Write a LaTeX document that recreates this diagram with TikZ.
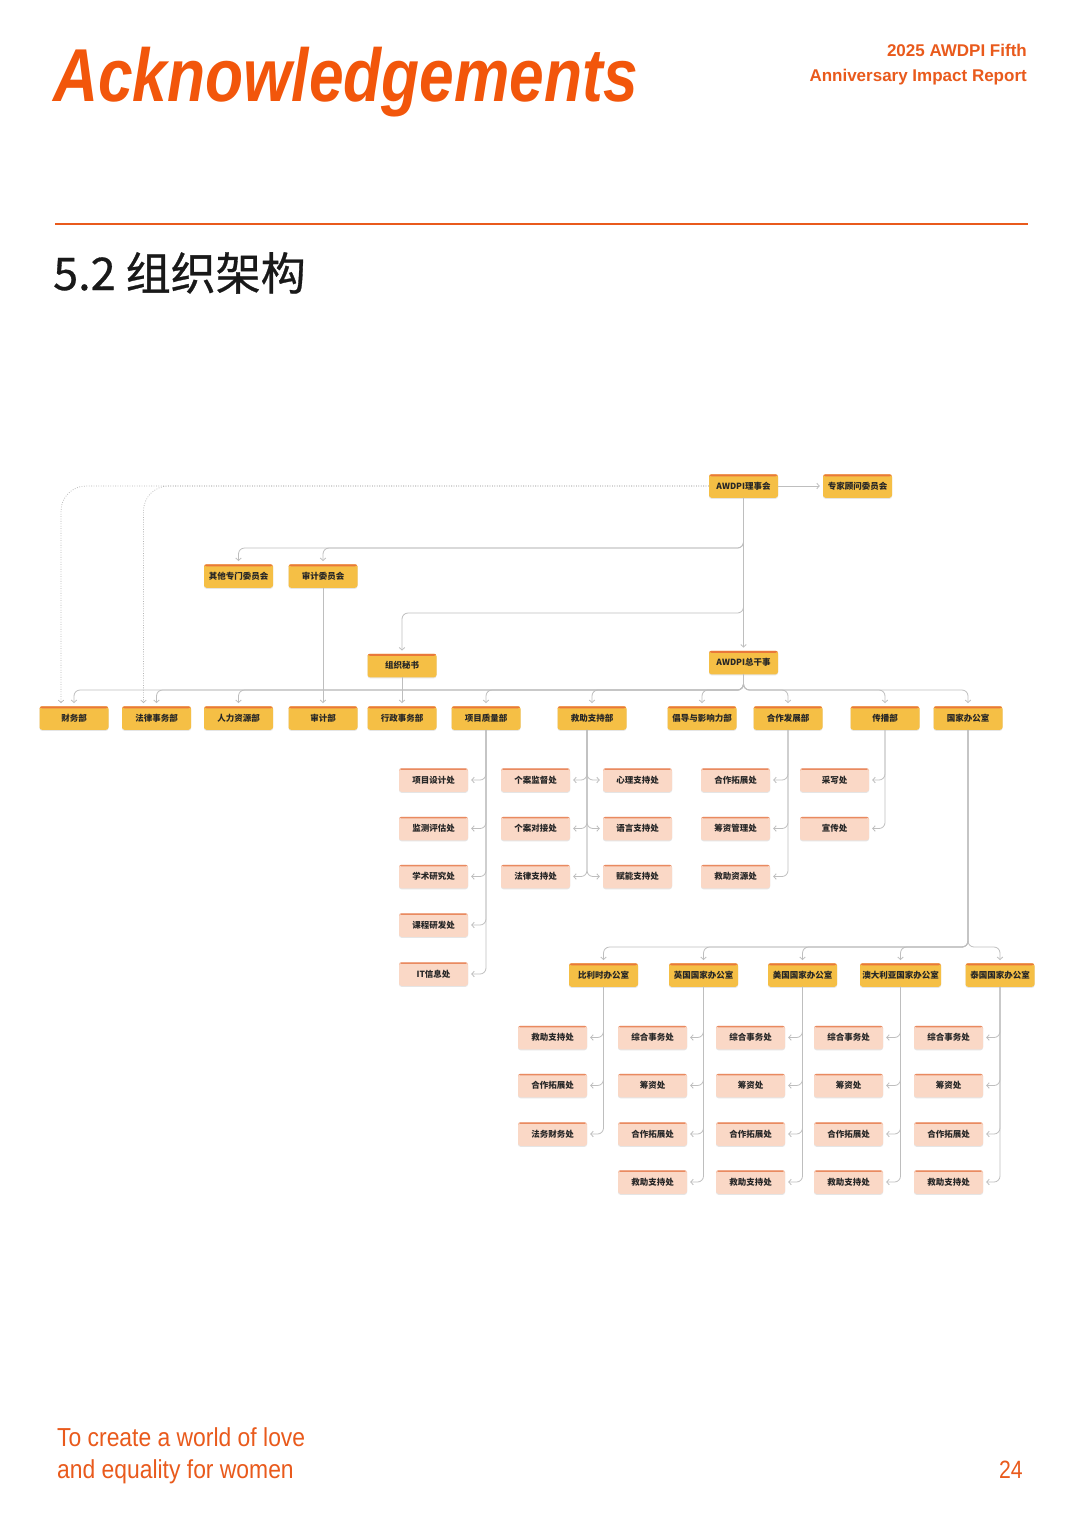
\documentclass[tikz,border=0pt]{standalone}
\usepackage{fontspec}
\setmainfont{Liberation Sans}
\newfontfamily\cjk{Noto Sans CJK SC}
\newfontfamily\cjkmed{Noto Sans CJK SC}[FakeBold=0.7]
\usetikzlibrary{arrows.meta,calc}
\definecolor{acc}{HTML}{F2560B}
\definecolor{acc2}{HTML}{E95A1C}
\definecolor{ybox}{HTML}{F5BF45}
\definecolor{ytop}{HTML}{E9783A}
\definecolor{pbox}{HTML}{FAD8C6}
\definecolor{ptop}{HTML}{E98A60}
\definecolor{lnk}{HTML}{BEBEBE}
\tikzset{
  box/.style={minimum width=69pt, minimum height=23.5pt, inner sep=1pt,
    rounded corners=2.5pt, text=black!85,
    preaction={fill=black!10, transform canvas={yshift=-1pt}},
    font=\cjk\bfseries\fontsize{8.5}{10}\selectfont},
  ybx/.style={box, fill=ybox,
    path picture={\fill[ytop] (path picture bounding box.north west) rectangle ([yshift=-2pt]path picture bounding box.north east);}},
  pbx/.style={box, fill=pbox,
    path picture={\fill[ptop] (path picture bounding box.north west) rectangle ([yshift=-1.6pt]path picture bounding box.north east);}},
  conn/.style={draw=lnk, line width=0.8pt, rounded corners=6pt, shorten >=3pt,
    -{Straight Barb[length=2.5pt,width=5.5pt]}},
  dconn/.style={draw=lnk!95!black, line width=0.7pt, dash pattern=on 0.8pt off 1.6pt,
    rounded corners=25pt, shorten >=3pt, -{Straight Barb[length=2.5pt,width=5.5pt]}},
}
\begin{document}
\begin{tikzpicture}[x=1pt,y=-1pt]
\fill[white] (0,0) rectangle (1080,1526);
\useasboundingbox (0,0) rectangle (1080,1526);

% header
\node[anchor=base west, inner sep=0, text=acc, font=\fontsize{75}{80}\selectfont\bfseries\itshape] (title) at (53,101) {\scalebox{0.83}[1]{Acknowledgements}};
\node[anchor=base east, inner sep=0, text=acc2, font=\fontsize{17}{20}\selectfont\bfseries] (rep1) at (1027,56) {2025 AWDPI Fifth};
\node[anchor=base east, inner sep=0, text=acc2, font=\fontsize{17}{20}\selectfont\bfseries] (rep2) at (1027,81) {Anniversary Impact Report};
\draw[acc2, line width=1.2pt] (55,224) -- (1028,224);
\node[anchor=base west, inner sep=0, text=black!90, font=\cjkmed\fontsize{45}{48}\selectfont] (sec) at (53,290) {5.2 组织架构};

% footer
\node[anchor=base west, inner sep=0, text=acc2, font=\fontsize{26}{30}\selectfont] (f1) at (57,1446) {\scalebox{0.88}[1]{To create a world of love}};
\node[anchor=base west, inner sep=0, text=acc2, font=\fontsize{26}{30}\selectfont] (f2) at (57,1478) {\scalebox{0.88}[1]{and equality for women}};
\node[anchor=base east, inner sep=0, text=acc2, font=\fontsize{25}{30}\selectfont] (pg) at (1023,1478) {\scalebox{0.85}[1]{24}};

% top level
\node[ybx] (lsh) at (743.5,486) {AWDPI理事会};
\node[ybx] (zj) at (857.5,486) {专家顾问委员会};
\node[ybx] (qt) at (238.5,576) {其他专门委员会};
\node[ybx] (sjw) at (323,576) {审计委员会};
\node[ybx] (zm) at (402,665.5) {组织秘书};
\node[ybx] (zg) at (743.5,662.5) {AWDPI总干事};

% departments
\node[ybx] (cw) at (74,718) {财务部};
\node[ybx] (fl) at (156.5,718) {法律事务部};
\node[ybx] (rl) at (238.5,718) {人力资源部};
\node[ybx] (sj) at (323,718) {审计部};
\node[ybx] (xz) at (402,718) {行政事务部};
\node[ybx] (xm) at (486,718) {项目质量部};
\node[ybx] (jz) at (592,718) {救助支持部};
\node[ybx] (cd) at (702,718) {倡导与影响力部};
\node[ybx] (hz) at (788,718) {合作发展部};
\node[ybx] (cb) at (885,718) {传播部};
\node[ybx] (gj) at (968,718) {国家办公室};

% connectors top
\draw[conn] (lsh.east) -- (zj.west);
\draw[dconn] (lsh.west) -| ([xshift=-13pt]cw.north);
\draw[dconn] (lsh.west) -| ([xshift=-13pt]fl.north);
\coordinate (b1) at (743.5,548);
\coordinate (b2) at (743.5,613);
\coordinate (b3) at (743.5,690);
\draw[conn] (lsh.south) -- (b1) -| (qt.north);
\draw[conn] (lsh.south) -- (b1) -| (sjw.north);
\draw[conn] (lsh.south) -- (b2) -| (zm.north);
\draw[conn] (lsh.south) -- (zg.north);
\draw[conn] (sjw.south) -- (sj.north);
\draw[conn] (zm.south) -- (xz.north);
\foreach \n in {cw,fl,rl,xm,jz,cd,hz,cb,gj}
  \draw[conn] (zg.south) -- (b3) -| (\n.north);

% sub units of departments
\foreach \n/\t/\y in {x1/项目设计处/780, x2/监测评估处/828.5, x3/学术研究处/876.5, x4/课程研发处/925, x5/IT信息处/974} {
  \node[pbx] (\n) at (433.5,\y) {\t};
  \draw[conn] (xm.south) |- (\n.east);
}
\foreach \n/\t/\y in {jl1/个案监督处/780, jl2/个案对接处/828.5, jl3/法律支持处/876.5} {
  \node[pbx] (\n) at (535.5,\y) {\t};
  \draw[conn] ([xshift=-5pt]jz.south) |- (\n.east);
}
\foreach \n/\t/\y in {jr1/心理支持处/780, jr2/语言支持处/828.5, jr3/赋能支持处/876.5} {
  \node[pbx] (\n) at (637.5,\y) {\t};
  \draw[conn] ([xshift=-5pt]jz.south) |- (\n.west);
}
\foreach \n/\t/\y in {h1/合作拓展处/780, h2/筹资管理处/828.5, h3/救助资源处/876.5} {
  \node[pbx] (\n) at (735.5,\y) {\t};
  \draw[conn] (hz.south) |- (\n.east);
}
\foreach \n/\t/\y in {c1/采写处/780, c2/宣传处/828.5} {
  \node[pbx] (\n) at (834.5,\y) {\t};
  \draw[conn] (cb.south) |- (\n.east);
}

% country offices
\node[ybx] (bl) at (603.5,975) {比利时办公室};
\node[ybx] (yg) at (703.5,975) {英国国家办公室};
\node[ybx] (mg) at (802.5,975) {美国国家办公室};
\node[ybx, minimum width=81pt] (ad) at (900.5,975) {澳大利亚国家办公室};
\node[ybx] (tg) at (1000,975) {泰国国家办公室};
\coordinate (b4) at (968,947);
\foreach \n in {bl,yg,mg,ad,tg}
  \draw[conn] (gj.south) -- (b4) -| (\n.north);

\foreach \t/\k/\y in {救助支持处/1/1037.5, 合作拓展处/2/1085.5, 法务财务处/3/1134} {
  \node[pbx] (bl\k) at (552.5,\y) {\t};
  \draw[conn] (bl.south) |- (bl\k.east);
}
\foreach \c/\cx in {yg/652.5, mg/750.5, ad/848.5, tg/948.5} {
  \foreach \t/\k/\y in {综合事务处/1/1037.5, 筹资处/2/1085.5, 合作拓展处/3/1134, 救助支持处/4/1182} {
    \node[pbx] (\c\k) at (\cx,\y) {\t};
    \draw[conn] (\c.south) |- (\c\k.east);
  }
}
\end{tikzpicture}
\end{document}
